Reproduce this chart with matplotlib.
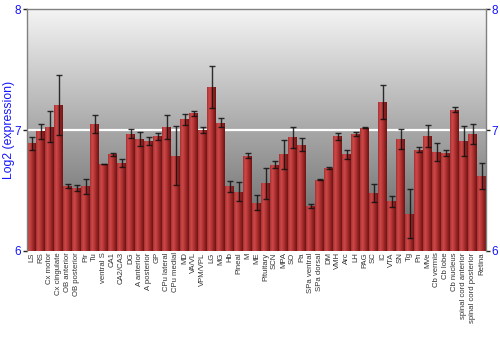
import matplotlib
matplotlib.use("Agg")
import matplotlib.pyplot as plt
import numpy as np
from matplotlib.colors import LinearSegmentedColormap

regions = [
    "LS", "RS", "Cx motor", "Cx cingulate", "OB anterior", "OB posterior",
    "Pir", "Tu", "ventral S", "CA1", "CA2/CA3", "DG", "A anterior",
    "A posterior", "GP", "CPu lateral", "CPu medial", "MD", "VA/VL",
    "VPM/VPL", "LG", "MG", "Hb", "Pineal", "M", "ME", "Pituitary", "SCN",
    "MPA", "SO", "Pa", "SPa ventral", "SPa dorsal", "DM", "VMH", "Arc", "LH",
    "PAG", "SC", "IC", "VTA", "SN", "Tg", "Pn", "MVe", "Cb vermis", "Cb lobe",
    "Cb nucleus", "spinal cord anterior", "spinal cord posterior", "Retina",
]
expression = [
    6.89, 6.99, 7.03, 7.21, 6.54, 6.52, 6.535, 7.05, 6.72, 6.80, 6.73, 6.97,
    6.93, 6.91, 6.95, 7.03, 6.79, 7.09, 7.14, 7.00, 7.355, 7.06, 6.535, 6.49,
    6.79, 6.40, 6.56, 6.715, 6.80, 6.94, 6.88, 6.37, 6.59, 6.69, 6.95, 6.80,
    6.97, 7.02, 6.48, 7.235, 6.41, 6.925, 6.31, 6.84, 6.95, 6.82, 6.81, 7.17,
    6.91, 6.97, 6.62,
]
error = [
    0.055, 0.06, 0.125, 0.25, 0.015, 0.023, 0.06, 0.075, 0.003, 0.015, 0.033,
    0.037, 0.057, 0.035, 0.03, 0.10, 0.245, 0.045, 0.022, 0.025, 0.175, 0.037,
    0.043, 0.08, 0.022, 0.064, 0.13, 0.026, 0.12, 0.09, 0.054, 0.015, 0.004,
    0.008, 0.03, 0.039, 0.018, 0.004, 0.075, 0.14, 0.044, 0.082, 0.206, 0.02,
    0.091, 0.075, 0.022, 0.022, 0.125, 0.083, 0.105,
]
y_ticks = [6, 7, 8]

plt.rcParams["font.family"] = ["Liberation Sans", "DejaVu Sans"]
blue = "#1414ff"
frame = "#808080"

fig = plt.figure(figsize=(5, 3.5), dpi=100)
ax = fig.add_axes([0.054, 0.283, 0.918, 0.690])

x = np.arange(len(regions))
ax.set_xlim(-0.5, len(regions) - 0.5)
ax.set_ylim(6, 8)

# gray vertical gradient background
bg = LinearSegmentedColormap.from_list("bg", ["#5e5e5e", "#a8a8a8", "#f4f4f4"])
ax.imshow(np.linspace(0, 1, 256).reshape(-1, 1), cmap=bg, origin="lower",
          extent=(-0.5, len(regions) - 0.5, 6, 8), aspect="auto", zorder=0)
ax.axhline(7, color="white", lw=1.6, zorder=1)

# bars with horizontal red shading
bars = ax.bar(x, expression, width=0.9, color="none", edgecolor="none", zorder=2)
shade = LinearSegmentedColormap.from_list(
    "shade", ["#a63030", "#cc4a4a", "#b83636", "#962424", "#6e1414"])
grad = np.linspace(0, 1, 64).reshape(1, -1)
for b in bars:
    x0, w, h = b.get_x(), b.get_width(), b.get_height()
    im = ax.imshow(grad, cmap=shade, extent=(x0, x0 + w, 6, h),
                   aspect="auto", zorder=2)
    im.set_clip_path(b)

ax.errorbar(x, expression, yerr=error, fmt="none", ecolor="#111111",
            elinewidth=1, capsize=2, capthick=1, alpha=0.85, zorder=3)

ax.set_xlim(-0.5, len(regions) - 0.5)
ax.set_ylim(6, 8)
ax.set_xticks(x)
ax.set_xticklabels(regions, rotation=90, fontsize=5.6, color="#333333")
ax.tick_params(axis="x", length=0, pad=1)
ax.set_yticks(y_ticks)
ax.tick_params(axis="y", which="both", labelsize=8.5, labelcolor=blue,
               length=3, width=1, color="#222222", pad=1,
               right=True, labelright=True)
ax.set_ylabel("Log2 (expression)", color=blue, fontsize=8.8)
ax.yaxis.set_label_coords(-0.027, 0.5)

for side in ["top", "left", "right"]:
    ax.spines[side].set_color(frame)
    ax.spines[side].set_linewidth(1)
ax.spines["bottom"].set_visible(False)

fig.savefig("out.png", dpi=100)
